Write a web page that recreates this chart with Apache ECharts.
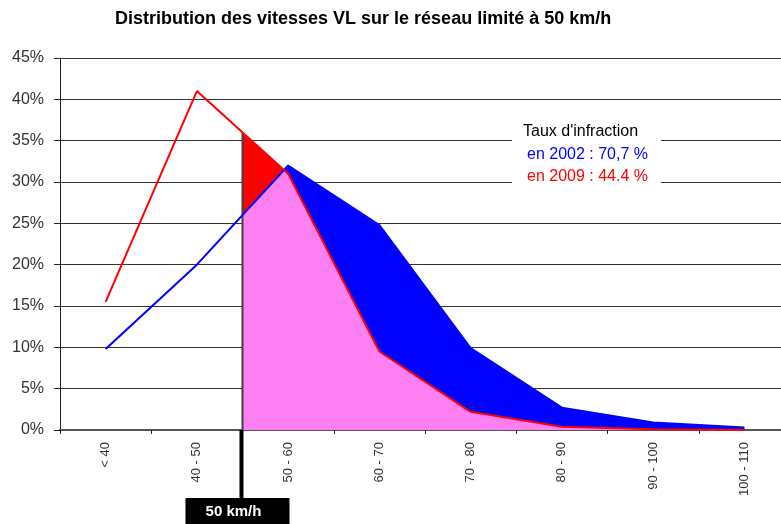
<!DOCTYPE html>
<html>
<head>
<meta charset="utf-8">
<script src="https://cdn.jsdelivr.net/npm/echarts@6/dist/echarts.min.js"></script>
<style>
html, body { margin: 0; padding: 0; background: #fff; }
#chart { width: 781px; height: 524px; }
</style>
</head>
<body>
<div id="chart"></div>
<script>
// classes de vitesse (km/h)
var categories = ['< 40', '40 - 50', '50 - 60', '60 - 70', '70 - 80', '80 - 90', '90 - 100', '100 - 110'];
// part des VL dans chaque classe (%)
var share2002 = [9.8, 20, 32, 24.8, 9.9, 2.7, 0.9, 0.3];
var share2009 = [15.5, 41, 31, 9.5, 2.2, 0.4, 0.1, 0];
// axe des %
var yMin = 0, yMax = 45, yStep = 5;
// limite 50 km/h = frontiere entre '40 - 50' et '50 - 60'
var limitPos = 2;
var limitLabel = '50 km/h';
var infractionTitle = "Taux d'infraction";
var infractionLines = ['en 2002 : 70,7 %', 'en 2009 : 44.4 %'];

var RED = '#ff0000', BLUE = '#0000ff', PINK = '#ff80f4';

function toPoints(vals) {
  return vals.map(function (v, i) { return [i + 0.5, v]; });
}

// valeur sur la ligne brisee a la position x
function valueAt(vals, x) {
  var i = Math.floor(x - 0.5);
  var t = x - 0.5 - i;
  if (t === 0) return vals[i];
  return vals[i] + (vals[i + 1] - vals[i]) * t;
}

function buildFills() {
  // points a droite de la limite, avec les croisements des deux courbes
  var xs = [limitPos];
  categories.forEach(function (c, i) { if (i + 0.5 > limitPos) xs.push(i + 0.5); });
  var rows = xs.map(function (x) { return { x: x, r: valueAt(share2009, x), b: valueAt(share2002, x) }; });
  var pts = [rows[0]];
  for (var k = 1; k < rows.length; k++) {
    var p = rows[k - 1], c = rows[k];
    var d0 = p.r - p.b, d1 = c.r - c.b;
    if (d0 * d1 < 0) {
      var t = d0 / (d0 - d1);
      var y = p.r + t * (c.r - p.r);
      pts.push({ x: p.x + t * (c.x - p.x), r: y, b: y });
    }
    pts.push(c);
  }

  // morceaux de la zone superieure (rouge si 2009 au dessus, bleu sinon)
  var pieces = [];
  for (var j = 1; j < pts.length; j++) {
    var qa = pts[j - 1], qb = pts[j];
    var upper = ((qa.r + qb.r) - (qa.b + qb.b)) > 0 ? 'r' : 'b';
    var last = pieces[pieces.length - 1];
    if (last && last.upper === upper) last.pts.push(qb);
    else pieces.push({ upper: upper, pts: [qa, qb] });
  }

  var list = pieces.map(function (pc) {
    return {
      type: 'line', xAxisIndex: 1, symbol: 'none', silent: true, z: 2,
      lineStyle: { width: 0 },
      areaStyle: { color: pc.upper === 'r' ? RED : BLUE, opacity: 1 },
      data: pc.pts.map(function (q) { return [q.x, Math.max(q.r, q.b)]; })
    };
  });
  list.push({
    type: 'line', xAxisIndex: 1, symbol: 'none', silent: true, z: 3,
    lineStyle: { width: 0 },
    areaStyle: { color: PINK, opacity: 1 },
    data: pts.map(function (q) { return [q.x, Math.min(q.r, q.b)]; })
  });
  return list;
}

var fillSeries = buildFills();
var limitTop = Math.max(valueAt(share2009, limitPos), valueAt(share2002, limitPos));

var myChart = echarts.init(document.getElementById('chart'));
var option = {
  animation: false,
  backgroundColor: '#fff',
  title: {
    text: 'Distribution des vitesses VL sur le réseau limité à 50 km/h',
    left: 115, top: 10, padding: 0,
    textStyle: { fontFamily: 'Liberation Sans', fontSize: 18, fontWeight: 'bold', color: '#000' }
  },
  grid: { left: 60, right: -9, top: 58, bottom: 94, containLabel: false, outerBoundsMode: 'none' },
  xAxis: [
    {
      type: 'category',
      data: categories,
      boundaryGap: true,
      axisLine: { lineStyle: { color: '#555', width: 2 } },
      axisTick: { show: true, length: 4, interval: 0, lineStyle: { color: '#222' } },
      axisLabel: { rotate: 90, interval: 0, margin: 12, fontSize: 13, fontFamily: 'Liberation Sans', color: '#333' },
      splitLine: { show: false }
    },
    { type: 'value', min: 0, max: categories.length, show: false, splitLine: { show: false } }
  ],
  yAxis: {
    type: 'value',
    min: yMin, max: yMax, interval: yStep,
    axisLine: { show: true, lineStyle: { color: '#222', width: 1 } },
    axisTick: { show: true, length: 6, lineStyle: { color: '#222' } },
    axisLabel: { formatter: '{value}%', fontSize: 16, margin: 16, fontFamily: 'Liberation Sans', color: '#333' },
    splitLine: { show: true, lineStyle: { color: '#333', width: 1 } }
  },
  series: fillSeries.concat([
    {
      // trait de la limite 50 km/h
      type: 'line', xAxisIndex: 1, symbol: 'none', silent: true, z: 4,
      lineStyle: { color: '#404040', width: 2 },
      data: [[limitPos, 0], [limitPos, limitTop]]
    },
    {
      name: '2002', type: 'line', xAxisIndex: 1, symbol: 'none', z: 5,
      lineStyle: { color: BLUE, width: 2 },
      data: toPoints(share2002)
    },
    {
      name: '2009', type: 'line', xAxisIndex: 1, symbol: 'none', z: 6,
      lineStyle: { color: RED, width: 2 },
      data: toPoints(share2009)
    }
  ])
};
myChart.setOption(option);

// annotations : trait sous l'axe + etiquette 50 km/h, encadre du taux d'infraction
var px = myChart.convertToPixel({ xAxisIndex: 1 }, limitPos);
var py0 = myChart.convertToPixel({ yAxisIndex: 0 }, 0);
myChart.setOption({
  graphic: [
    { type: 'line', z: 100, shape: { x1: px - 1, y1: py0, x2: px - 1, y2: 500 }, style: { stroke: '#000', lineWidth: 4 } },
    { type: 'rect', z: 100, shape: { x: px - 57, y: 498, width: 104, height: 30 }, style: { fill: '#000' } },
    { type: 'text', z: 101, style: { text: limitLabel, x: px - 9, y: 512, align: 'center', verticalAlign: 'middle', fill: '#fff', font: 'bold 15px "Liberation Sans"' } },
    { type: 'rect', z: 100, shape: { x: 512, y: 120, width: 149, height: 70 }, style: { fill: '#fff' } },
    { type: 'text', z: 101, style: { text: infractionTitle, x: 523, y: 132, verticalAlign: 'middle', fill: '#000', font: '16px "Liberation Sans"' } },
    { type: 'text', z: 101, style: { text: infractionLines[0], x: 527, y: 155, verticalAlign: 'middle', fill: BLUE, font: '16px "Liberation Sans"' } },
    { type: 'text', z: 101, style: { text: infractionLines[1], x: 527, y: 177, verticalAlign: 'middle', fill: RED, font: '16px "Liberation Sans"' } }
  ]
});
</script>
</body>
</html>
